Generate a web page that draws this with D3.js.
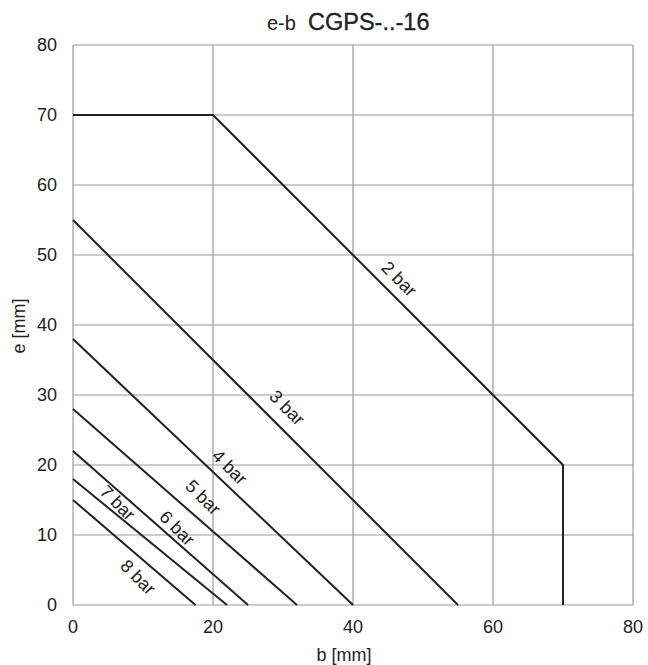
<!DOCTYPE html>
<html><head><meta charset="utf-8">
<script src="https://cdn.jsdelivr.net/npm/d3@7"></script>
<style>body{margin:0;background:#fff}text{font-family:"Liberation Sans",Arial,sans-serif;fill:#222}</style>
</head><body>
<svg id="c" width="648" height="665"></svg>
<script>
const xTicks=[0,20,40,60,80];
const yTicks=[0,10,20,30,40,50,60,70,80];
const series=[
 {name:"2 bar",pts:[[0,70],[20,70],[70,20],[70,0]]},
 {name:"3 bar",pts:[[0,55],[55,0]]},
 {name:"4 bar",pts:[[0,38],[40,0]]},
 {name:"5 bar",pts:[[0,28],[32,0]]},
 {name:"6 bar",pts:[[0,22],[25,0]]},
 {name:"7 bar",pts:[[0,18],[22,0]]},
 {name:"8 bar",pts:[[0,15],[17.5,0]]}
];
const labels=[
 {t:"2 bar",x:46.6,y:46.6},
 {t:"3 bar",x:30.6,y:28.2},
 {t:"4 bar",x:22.4,y:19.7},
 {t:"5 bar",x:18.6,y:15.4},
 {t:"6 bar",x:14.9,y:11.0},
 {t:"7 bar",x:6.4,y:14.6},
 {t:"8 bar",x:9.3,y:4.0}
];
const svg=d3.select("#c");
const x=d3.scaleLinear().domain([0,80]).range([73,633]);
const y=d3.scaleLinear().domain([0,80]).range([605,45]);
const g=svg.append("g");
g.selectAll(".gx").data(xTicks).join("line").attr("x1",d=>x(d)).attr("x2",d=>x(d)).attr("y1",y(0)).attr("y2",y(80)).attr("stroke","#999").attr("stroke-width",1.2);
g.selectAll(".gy").data(yTicks).join("line").attr("y1",d=>y(d)).attr("y2",d=>y(d)).attr("x1",x(0)).attr("x2",x(80)).attr("stroke","#999").attr("stroke-width",1.2);
const line=d3.line().x(d=>x(d[0])).y(d=>y(d[1]));
g.selectAll(".s").data(series).join("path").attr("d",d=>line(d.pts)).attr("fill","none").attr("stroke","#222").attr("stroke-width",2);
g.selectAll(".lab").data(labels).join("text")
 .attr("transform",d=>`translate(${x(d.x)},${y(d.y)}) rotate(45)`)
 .attr("text-anchor","middle").attr("dy","0.35em").attr("font-size",18).text(d=>d.t);
svg.selectAll(".xt").data(xTicks).join("text").attr("x",d=>x(d)).attr("y",633).attr("text-anchor","middle").attr("font-size",18).text(d=>d);
svg.selectAll(".yt").data(yTicks).join("text").attr("x",57).attr("y",d=>y(d)).attr("dy","0.35em").attr("text-anchor","end").attr("font-size",18).text(d=>d);
svg.append("text").attr("x",344).attr("y",661).attr("text-anchor","middle").attr("font-size",18).text("b [mm]");
svg.append("text").attr("transform","translate(25,326) rotate(-90)").attr("text-anchor","middle").attr("font-size",18).text("e [mm]");
svg.append("text").attr("x",267).attr("y",30).attr("font-size",20).text("e-b");
svg.append("text").attr("x",308).attr("y",30).attr("font-size",23.5).attr("stroke","#222").attr("stroke-width",0.35).text("CGPS-..-16");
</script>
</body></html>
